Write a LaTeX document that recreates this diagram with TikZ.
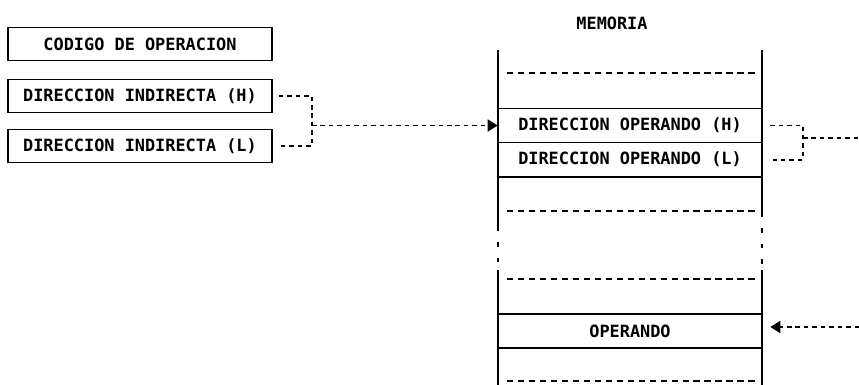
\documentclass[tikz,border=0pt]{standalone}
\usepackage{fontspec}
\newfontfamily\dotfont{DejaVu Sans Mono}
\usetikzlibrary{arrows.meta, positioning}

\begin{document}
\begin{tikzpicture}[
    x=0.025cm, y=-0.025cm,
    every node/.style={font=\dotfont\bfseries\fontsize{12}{14}\selectfont},
    regbox/.style={draw, line width=1.2pt, minimum width=6.6cm, minimum height=0.82cm, inner sep=0pt},
    cell/.style={minimum width=6.6cm, minimum height=0.84cm, inner sep=0pt},
    wall/.style={line width=1.2pt},
    sep/.style={line width=1.2pt, dash pattern=on 4.6pt off 3.2pt},
    link/.style={line width=1.2pt, dash pattern=on 3.2pt off 2.8pt},
    gapdash/.style={line width=1.2pt, dash pattern=on 3pt off 8pt},
    tip/.style={-{Triangle[length=0.25cm, width=0.3cm]}},
]
\useasboundingbox (0,0) rectangle (859,385);

% === Instruction (left) ===
\node[regbox] (opcode) at (140,44)  {CODIGO DE OPERACION};
\node[regbox] (indH)   at (140,96)  {DIRECCION INDIRECTA (H)};
\node[regbox] (indL)   at (140,146) {DIRECCION INDIRECTA (L)};

% === Memory ===
\node (memtitle) at (612,23) {MEMORIA};

% side walls (broken in the middle)
\draw[wall] (498,50) -- (498,227);
\draw[gapdash] (498,227) -- (498,270);
\draw[wall] (498,270) -- (498,385);
\draw[wall] (762,50) -- (762,213);
\draw[gapdash] (762,213) -- (762,270);
\draw[wall] (762,270) -- (762,385);

% cells
\node[cell] (dirH) at (630,125.5) {DIRECCION OPERANDO (H)};
\node[cell, below=0pt of dirH] (dirL) {DIRECCION OPERANDO (L)};
\node[cell] (oper) at (630,331) {OPERANDO};
\foreach \c in {dirH, oper} {
    \draw[wall] (\c.north west) -- (\c.north east);
    \draw[wall] (\c.south west) -- (\c.south east);
}
\draw[wall] (dirL.south west) -- (dirL.south east);

% dashed separators
\foreach \yy in {73, 211, 279, 381} {
    \draw[sep] (507,\yy) -- (755,\yy);
}

% === Pointer from instruction to memory ===
\coordinate (bkA) at (312,0);
\draw[link] ([xshift=0.15cm]indH.east) -- (indH.east -| bkA)
    -- (indL.east -| bkA) -- ([xshift=0.15cm]indL.east);
\draw[link, tip] (bkA |- dirH.west) -- (dirH.west);

% === Pointer from memory to operand ===
\coordinate (bkB) at (803,0);
\coordinate (outB) at (859,138);
\coordinate (inB) at (859,327);
\draw[link] ([xshift=0.2cm]dirH.east) -- (dirH.east -| bkB)
    -- (dirL.east -| bkB) -- ([xshift=0.2cm]dirL.east);
\draw[link] (bkB |- outB) -- (outB);
\draw[link, tip] (inB) -- ([xshift=0.2cm]oper.east |- inB);

\end{tikzpicture}
\end{document}
